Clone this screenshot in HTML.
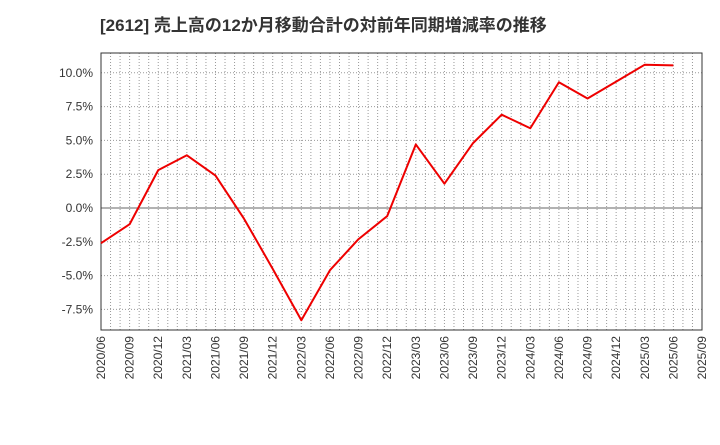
<!DOCTYPE html>
<html><head><meta charset="utf-8"><style>
body{margin:0;background:#fff;width:720px;height:440px;overflow:hidden;font-family:"Liberation Sans","Noto Sans CJK JP",sans-serif}
</style></head><body>
<svg id="c" width="720" height="440" xmlns="http://www.w3.org/2000/svg">
<text x="100" y="31" font-size="17" font-weight="bold" fill="#333" font-family="Liberation Sans, Noto Sans CJK JP, sans-serif">[2612]  売上高の12か月移動合計の対前年同期増減率の推移</text>
<g id="grid"></g><g id="axes"></g><g id="series"></g>
</svg>
<script>
const categories=["2020/06","2020/09","2020/12","2021/03","2021/06","2021/09","2021/12","2022/03","2022/06","2022/09","2022/12","2023/03","2023/06","2023/09","2023/12","2024/03","2024/06","2024/09","2024/12","2025/03","2025/06"];
const xTickLabels=["2020/06","2020/09","2020/12","2021/03","2021/06","2021/09","2021/12","2022/03","2022/06","2022/09","2022/12","2023/03","2023/06","2023/09","2023/12","2024/03","2024/06","2024/09","2024/12","2025/03","2025/06","2025/09"];
const values=[-2.6,-1.2,2.8,3.9,2.4,-0.8,-4.5,-8.3,-4.6,-2.3,-0.6,4.7,1.8,4.8,6.9,5.9,9.3,8.1,9.35,10.6,10.55];
const yTicks=[10,7.5,5,2.5,0,-2.5,-5,-7.5];
const L=101,R=702,T=53,B=330;
const x=i=>L+i*(R-L)/(xTickLabels.length-1);
const y=v=>208-v*(33.8/2.5);
const NS="http://www.w3.org/2000/svg";
function mk(tag,attrs,parent){const e=document.createElementNS(NS,tag);for(const k in attrs)e.setAttribute(k,attrs[k]);document.getElementById(parent).appendChild(e);return e;}
const nMonths=(xTickLabels.length-1)*3;
for(let m=1;m<nMonths;m++){const xx=L+m*(R-L)/nMonths;
const g=mk("line",{x1:xx,x2:xx,y1:T,y2:B,stroke:"#999","stroke-dasharray":"1,2","stroke-width":1},"grid");

}
yTicks.forEach(v=>{const yy=y(v);
const g=mk("line",{x1:L,x2:R,y1:yy,y2:yy,stroke:v===0?"#666":"#999","stroke-dasharray":v===0?"":"1,2","stroke-width":1},"grid");


const t=mk("text",{x:L-8,y:yy+4,"text-anchor":"end","font-size":12,fill:"#333"},"axes");t.textContent=v.toFixed(1)+"%";

});
const f=mk("rect",{x:L,y:T,width:R-L,height:B-T,fill:"none",stroke:"#333","stroke-width":1},"axes");


xTickLabels.forEach((s,i)=>{const xx=x(i);
const t=mk("text",{x:0,y:0,"text-anchor":"end","font-size":12,fill:"#333",transform:`translate(${xx+4},${B+6}) rotate(-90)`},"axes");t.textContent=s;

});
const p=mk("polyline",{points:values.map((v,i)=>x(i)+","+y(v)).join(" "),fill:"none",stroke:"#e00","stroke-width":2,"stroke-linejoin":"round"},"series");


</script>
</body></html>
